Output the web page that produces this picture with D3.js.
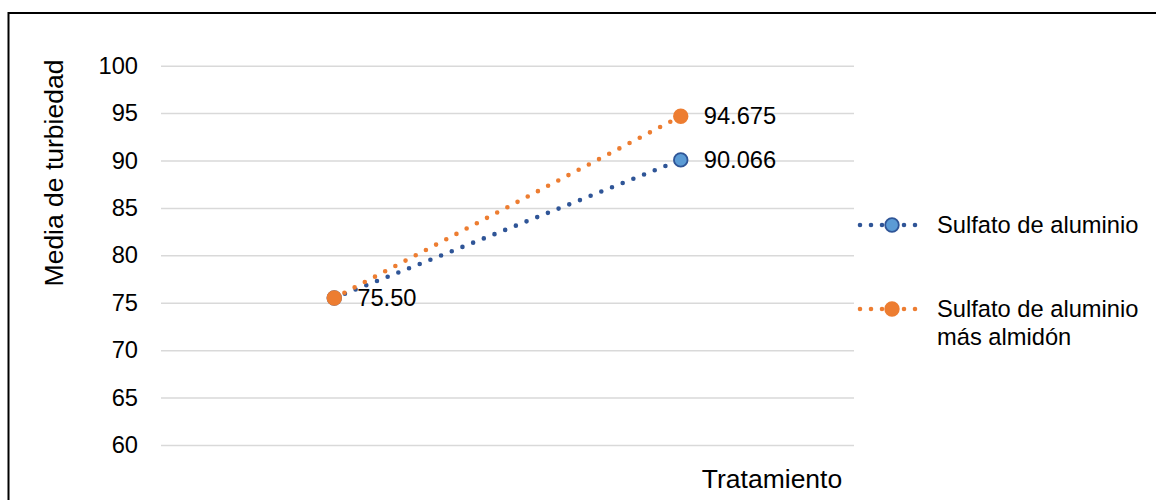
<!DOCTYPE html>
<html><head><meta charset="utf-8">
<script src="https://cdn.jsdelivr.net/npm/d3@7/dist/d3.min.js"></script>
<style>body{margin:0;background:#fff;overflow:hidden}svg{display:block;font-family:"Liberation Sans",Arial,sans-serif}</style>
</head><body>
<script>
const categories = ["1", "2"];
const seriesNames = ["Sulfato de aluminio", "Sulfato de aluminio más almidón"];
const seriesA = [75.50, 90.066];
const seriesB = [75.50, 94.675];
const labelsA = ["75.50", "90.066"];
const labelsB = ["75.50", "94.675"];
const yTicks = [60, 65, 70, 75, 80, 85, 90, 95, 100];
const yTitle = "Media de turbiedad";
const xTitle = "Tratamiento";

const W = 1156, H = 500;
const svg = d3.select("body").append("svg").attr("width", W).attr("height", H);
svg.append("rect").attr("width", W).attr("height", H).attr("fill", "#fff");
svg.append("rect").attr("x", 8.5).attr("y", 13).attr("width", 1300).attr("height", 700)
  .attr("fill", "none").attr("stroke", "#000").attr("stroke-width", 2);

const x = d3.scaleBand().domain(categories).range([161, 854]).padding(0);
const y = d3.scaleLinear().domain([60, 100]).range([445, 65.7]);

const yAxis = d3.axisLeft(y).tickValues(yTicks).tickSize(-(854 - 161)).tickPadding(23).tickFormat(d3.format("d"));
const gy = svg.append("g").attr("transform", "translate(161,0)").call(yAxis);
gy.select(".domain").remove();
gy.selectAll(".tick line").attr("stroke", "#d9d9d9").attr("stroke-width", 1.5);
gy.selectAll(".tick text").attr("fill", "#000").style("font-size", "23.7px")
  .style("font-family", "'Liberation Sans', Arial, sans-serif");

const series = [
  {name: seriesNames[0], values: seriesA, labels: labelsA, line: "#2f5597", fill: "#5b9bd5", stroke: "#2f5597"},
  {name: seriesNames[1], values: seriesB, labels: labelsB, line: "#ed7d31", fill: "#ed7d31", stroke: "#ed7d31"}
];
const cx = c => x(c) + x.bandwidth() / 2;
const line = d3.line().x((d, i) => cx(categories[i])).y(d => y(d));

series.forEach(s => {
  svg.append("path").attr("d", line(s.values)).attr("fill", "none")
    .attr("stroke", s.line).attr("stroke-width", 4.6).attr("stroke-linecap", "round")
    .attr("stroke-dasharray", "0,11.5");
});
series.forEach(s => {
  svg.selectAll(null).data(s.values).enter().append("circle")
    .attr("cx", (d, i) => cx(categories[i])).attr("cy", d => y(d)).attr("r", 6.8)
    .attr("fill", s.fill).attr("stroke", s.stroke).attr("stroke-width", 1.8);
});
const shown = new Set();
series.forEach(s => {
  s.values.forEach((v, i) => {
    const key = categories[i] + "|" + s.labels[i];
    if (shown.has(key)) return;
    shown.add(key);
    svg.append("text").attr("x", cx(categories[i]) + 23).attr("y", y(v)).attr("dy", "0.35em")
      .attr("fill", "#000").style("font-size", "23.7px").text(s.labels[i]);
  });
});

svg.append("text").attr("transform", "translate(63,173) rotate(-90)").attr("text-anchor", "middle")
  .attr("fill", "#000").style("font-size", "26.5px").text(yTitle);
svg.append("text").attr("x", 772).attr("y", 488).attr("text-anchor", "middle")
  .attr("fill", "#000").style("font-size", "26.5px").text(xTitle);

// legend
const legY = [225, 309];
const legLines = [[seriesNames[0]], ["Sulfato de aluminio", "más almidón"]];
series.forEach((s, k) => {
  const g = svg.append("g").attr("transform", `translate(0,${legY[k]})`);
  g.append("line").attr("x1", 860).attr("x2", 922).attr("y1", 0).attr("y2", 0)
    .attr("stroke", s.line).attr("stroke-width", 4.6).attr("stroke-linecap", "round")
    .attr("stroke-dasharray", "0,11");
  g.append("circle").attr("cx", 892).attr("cy", 0).attr("r", 6.8)
    .attr("fill", s.fill).attr("stroke", s.stroke).attr("stroke-width", 1.8);
  const t = g.append("text").attr("x", 937).attr("y", 0)
    .attr("fill", "#000").style("font-size", "23.7px");
  legLines[k].forEach((ln, j) => {
    t.append("tspan").attr("x", 937).attr("dy", j === 0 ? "0.35em" : "1.18em").text(ln);
  });
});
</script>
</body></html>
